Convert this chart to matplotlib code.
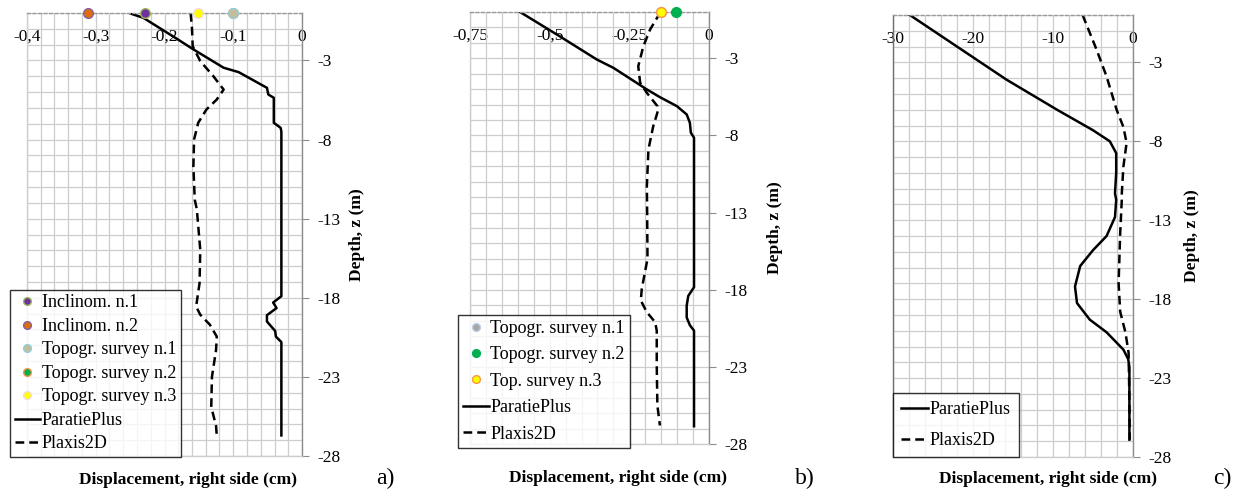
import matplotlib
matplotlib.use("Agg")
import matplotlib.pyplot as plt
from matplotlib.ticker import MultipleLocator, FixedLocator

plt.rcParams['font.family'] = ['Liberation Serif', 'DejaVu Serif']
plt.rcParams['axes.unicode_minus'] = False

W, H = 1237, 492

# ---- panel a data (displacement cm, depth m)
a_para_x = [-0.251, -0.245, -0.231, -0.182, -0.158, -0.114, -0.092, -0.080, -0.051, -0.049, -0.041,
            -0.041, -0.031, -0.030, -0.030, -0.042, -0.037, -0.051, -0.051, -0.039, -0.038, -0.030, -0.030]
a_para_z = [0.0, -0.1, -0.3, -1.63, -2.3, -3.46, -3.74, -4.03, -4.73, -5.15, -5.36,
            -6.94, -7.26, -7.5, -17.9, -18.3, -18.65, -19.1, -19.5, -20.1, -20.45, -20.8, -26.7]
a_plax_x = [-0.162, -0.160, -0.159, -0.148, -0.129, -0.114, -0.124, -0.139, -0.151, -0.157, -0.158,
            -0.156, -0.153, -0.148, -0.149, -0.154, -0.148, -0.134, -0.124, -0.125, -0.131, -0.132,
            -0.125, -0.124]
a_plax_z = [0.0, -1.0, -2.1, -3.04, -3.99, -4.84, -5.47, -6.1, -6.94, -8.0, -9.7,
            -11.8, -12.4, -14.96, -17.07, -18.55, -19.07, -19.7, -20.45, -21.3, -23.0, -24.9,
            -26.1, -26.7]

# ---- panel b data
b_para_x = [-0.593, -0.468, -0.352, -0.300, -0.195, -0.154, -0.101, -0.070, -0.060, -0.057, -0.047,
            -0.047, -0.065, -0.070, -0.070, -0.060, -0.047, -0.047]
b_para_z = [0.0, -1.58, -3.08, -3.62, -5.02, -5.52, -6.1, -6.64, -7.18, -7.82, -8.15,
            -17.84, -18.4, -19.03, -19.8, -20.3, -20.65, -26.85]
b_plax_x = [-0.152, -0.185, -0.206, -0.222, -0.216, -0.195, -0.162, -0.162, -0.175, -0.190, -0.195,
            -0.194, -0.193, -0.211, -0.214, -0.195, -0.169, -0.164, -0.164, -0.162, -0.154]
b_plax_z = [0.0, -1.14, -2.22, -3.52, -4.59, -5.24, -6.1, -6.53, -7.4, -8.9, -11.27,
            -13.2, -16.0, -17.95, -18.7, -19.46, -20.1, -20.65, -22.9, -25.5, -26.8]

# ---- panel c data
c_para_x = [-27.9, -22.0, -15.8, -9.5, -5.0, -2.9, -2.1, -2.1, -2.25, -2.1, -2.25, -3.3, -5.0,
            -6.6, -7.25, -7.0, -5.4, -3.3, -1.2, -0.6, -0.45, -0.45]
c_para_z = [0.0, -2.0, -4.1, -6.0, -7.3, -8.0, -8.75, -10.0, -11.3, -11.7, -12.8, -14.0, -14.9,
            -15.9, -17.2, -18.25, -19.3, -20.1, -21.2, -21.8, -22.3, -26.9]
c_plax_x = [-6.3, -4.55, -3.3, -2.05, -1.2, -0.8, -1.2, -1.4, -1.4, -1.6, -1.8, -1.6, -0.95,
            -0.55, -0.45, -0.4]
c_plax_z = [0.0, -2.2, -3.9, -6.0, -7.1, -8.1, -9.6, -11.3, -11.7, -13.8, -17.0, -18.8, -20.1,
            -21.4, -24.4, -26.9]

# ---- surveys at the top (depth 0)
a_survey_names = ["Inclinom. n.1", "Inclinom. n.2", "Topogr. survey n.1",
                  "Topogr. survey n.2", "Topogr. survey n.3"]
a_survey_x = [-0.228, -0.311, -0.101, -0.101, -0.151]
a_survey_face = ["#7030A0", "#E36C09", "#C4BD97", "#00B050", "#FFFF00"]
a_survey_edge = ["#9BBB59", "#8064A2", "#93CDDD", "#F79646", "#F2DCDB"]
a_draw_order = [3, 2, 4, 0, 1]

b_survey_names = ["Topogr. survey n.1", "Topogr. survey n.2", "Top. survey n.3"]
b_survey_x = [-0.152, -0.104, -0.152]
b_survey_face = ["#A6A6A6", "#00B050", "#FFFF00"]
b_survey_edge = ["#B9CDE5", "#00B050", "#F79646"]
b_draw_order = [0, 1, 2]

y_major = [-3, -8, -13, -18, -23, -28]

a_xticks = [-0.4, -0.3, -0.2, -0.1, 0]
a_xlabels = ["-0,4", "-0,3", "-0,2", "-0,1", "0"]
b_xticks = [-0.75, -0.5, -0.25, 0]
b_xlabels = ["-0,75", "-0,5", "-0,25", "0"]
c_xticks = [-30, -20, -10, 0]
c_xlabels = ["-30", "-20", "-10", "0"]

fig = plt.figure(figsize=(W / 100, H / 100), dpi=100)


def make_ax(l, r, t, b):
    return fig.add_axes([l / W, (H - b) / H, (r - l) / W, (b - t) / H])


def style_ax(ax, xmin, xticks, xlabels, xminor, left_dark=False):
    ax.set_xlim(xmin, 0)
    ax.set_ylim(-28, 0)
    ax.xaxis.set_major_locator(FixedLocator(xticks))
    ax.set_xticklabels(xlabels)
    ax.xaxis.set_minor_locator(MultipleLocator(xminor))
    ax.yaxis.set_major_locator(FixedLocator(y_major))
    ax.yaxis.set_minor_locator(MultipleLocator(1))
    ax.grid(True, which='both', color='#cdcdcd', linewidth=0.9)
    ax.set_axisbelow(True)
    ax.tick_params(axis='x', which='both', top=True, bottom=False, labeltop=True,
                   labelbottom=False, length=0, pad=-23, labelsize=12.5)
    ax.tick_params(axis='y', which='major', left=False, labelleft=False, right=True,
                   labelright=True, length=5, color='#8c8c8c', pad=6, labelsize=12.5)
    ax.tick_params(axis='y', which='minor', left=False, right=False)
    ax.spines['top'].set_linestyle((0, (2, 2)))
    ax.spines['top'].set_color('#9a9a9a')
    ax.spines['right'].set_color('#8c8c8c')
    ax.spines['bottom'].set_color('#cdcdcd')
    ax.spines['left'].set_color('#6e6e6e' if left_dark else '#cdcdcd')
    for s in ax.spines.values():
        s.set_linewidth(1.0)


def add_labels(ax, xl_x, xl_y, yl_x):
    ax.set_xlabel("Displacement, right side (cm)", fontweight='bold', fontsize=12.5)
    ax.xaxis.set_label_coords(xl_x, xl_y)
    ax.set_ylabel("Depth, z (m)", fontweight='bold', fontsize=12.5)
    ax.yaxis.set_label_coords(yl_x, 0.5)


leg_kw = dict(loc='lower left', bbox_transform=fig.transFigure, fontsize=13,
              frameon=True, fancybox=False, edgecolor='black', handletextpad=0.1,
              borderaxespad=0)

# ---- panel a
ax1 = make_ax(27, 302, 13, 456)
style_ax(ax1, -0.4, a_xticks, a_xlabels, 0.02)
h_a = [None] * 5
for i in a_draw_order:
    h_a[i], = ax1.plot([a_survey_x[i]], [0], 'o', ms=7, mfc=a_survey_face[i],
                       mec=a_survey_edge[i], mew=1, clip_on=False, zorder=5,
                       label=a_survey_names[i])
pa, = ax1.plot(a_para_x, a_para_z, color='black', lw=1.8, label="ParatiePlus")
xa, = ax1.plot(a_plax_x, a_plax_z, color='black', lw=1.8, ls=(0, (3.5, 2)), label="Plaxis2D")
add_labels(ax1, 0.585, -0.036, 1.23)
leg = ax1.legend(handles=h_a + [pa, xa], bbox_to_anchor=(10 / W, (H - 457) / H),
                 handlelength=1.4, labelspacing=0.36, borderpad=0.25, markerscale=0.8,
                 **leg_kw)
leg.get_frame().set_linewidth(1.0)

# ---- panel b
ax2 = make_ax(470, 709, 12, 444)
style_ax(ax2, -0.75, b_xticks, b_xlabels, 0.05)
h_b = [None] * 3
for i in b_draw_order:
    h_b[i], = ax2.plot([b_survey_x[i]], [0], 'o', ms=7, mfc=b_survey_face[i],
                       mec=b_survey_edge[i], mew=1, clip_on=False, zorder=5,
                       label=b_survey_names[i])
pb, = ax2.plot(b_para_x, b_para_z, color='black', lw=1.8, label="ParatiePlus")
xb, = ax2.plot(b_plax_x, b_plax_z, color='black', lw=1.8, ls=(0, (3.5, 2)), label="Plaxis2D")
add_labels(ax2, 0.62, -0.06, 1.31)
leg = ax2.legend(handles=h_b + [pb, xb], bbox_to_anchor=(458 / W, (H - 448) / H),
                 handlelength=1.4, labelspacing=0.52, borderpad=0.3, markerscale=0.8,
                 **leg_kw)
leg.get_frame().set_linewidth(1.0)

# ---- panel c
ax3 = make_ax(893, 1133, 15, 457)
style_ax(ax3, -30, c_xticks, c_xlabels, 2, left_dark=True)
pc, = ax3.plot(c_para_x, c_para_z, color='black', lw=1.8, label="ParatiePlus")
xc, = ax3.plot(c_plax_x, c_plax_z, color='black', lw=1.8, ls=(0, (3.5, 2)), label="Plaxis2D")
add_labels(ax3, 0.646, -0.031, 1.28)
leg = ax3.legend(handles=[pc, xc], bbox_to_anchor=(893 / W, (H - 457) / H),
                 handlelength=1.5, labelspacing=0.75, borderpad=0.45, **leg_kw)
leg.get_frame().set_linewidth(1.0)

for letter, x in [("a)", 385), ("b)", 805), ("c)", 1222)]:
    fig.text(x / W, (H - 478) / H, letter, fontsize=17, ha='center', va='center')

fig.savefig("out.png", dpi=100)
